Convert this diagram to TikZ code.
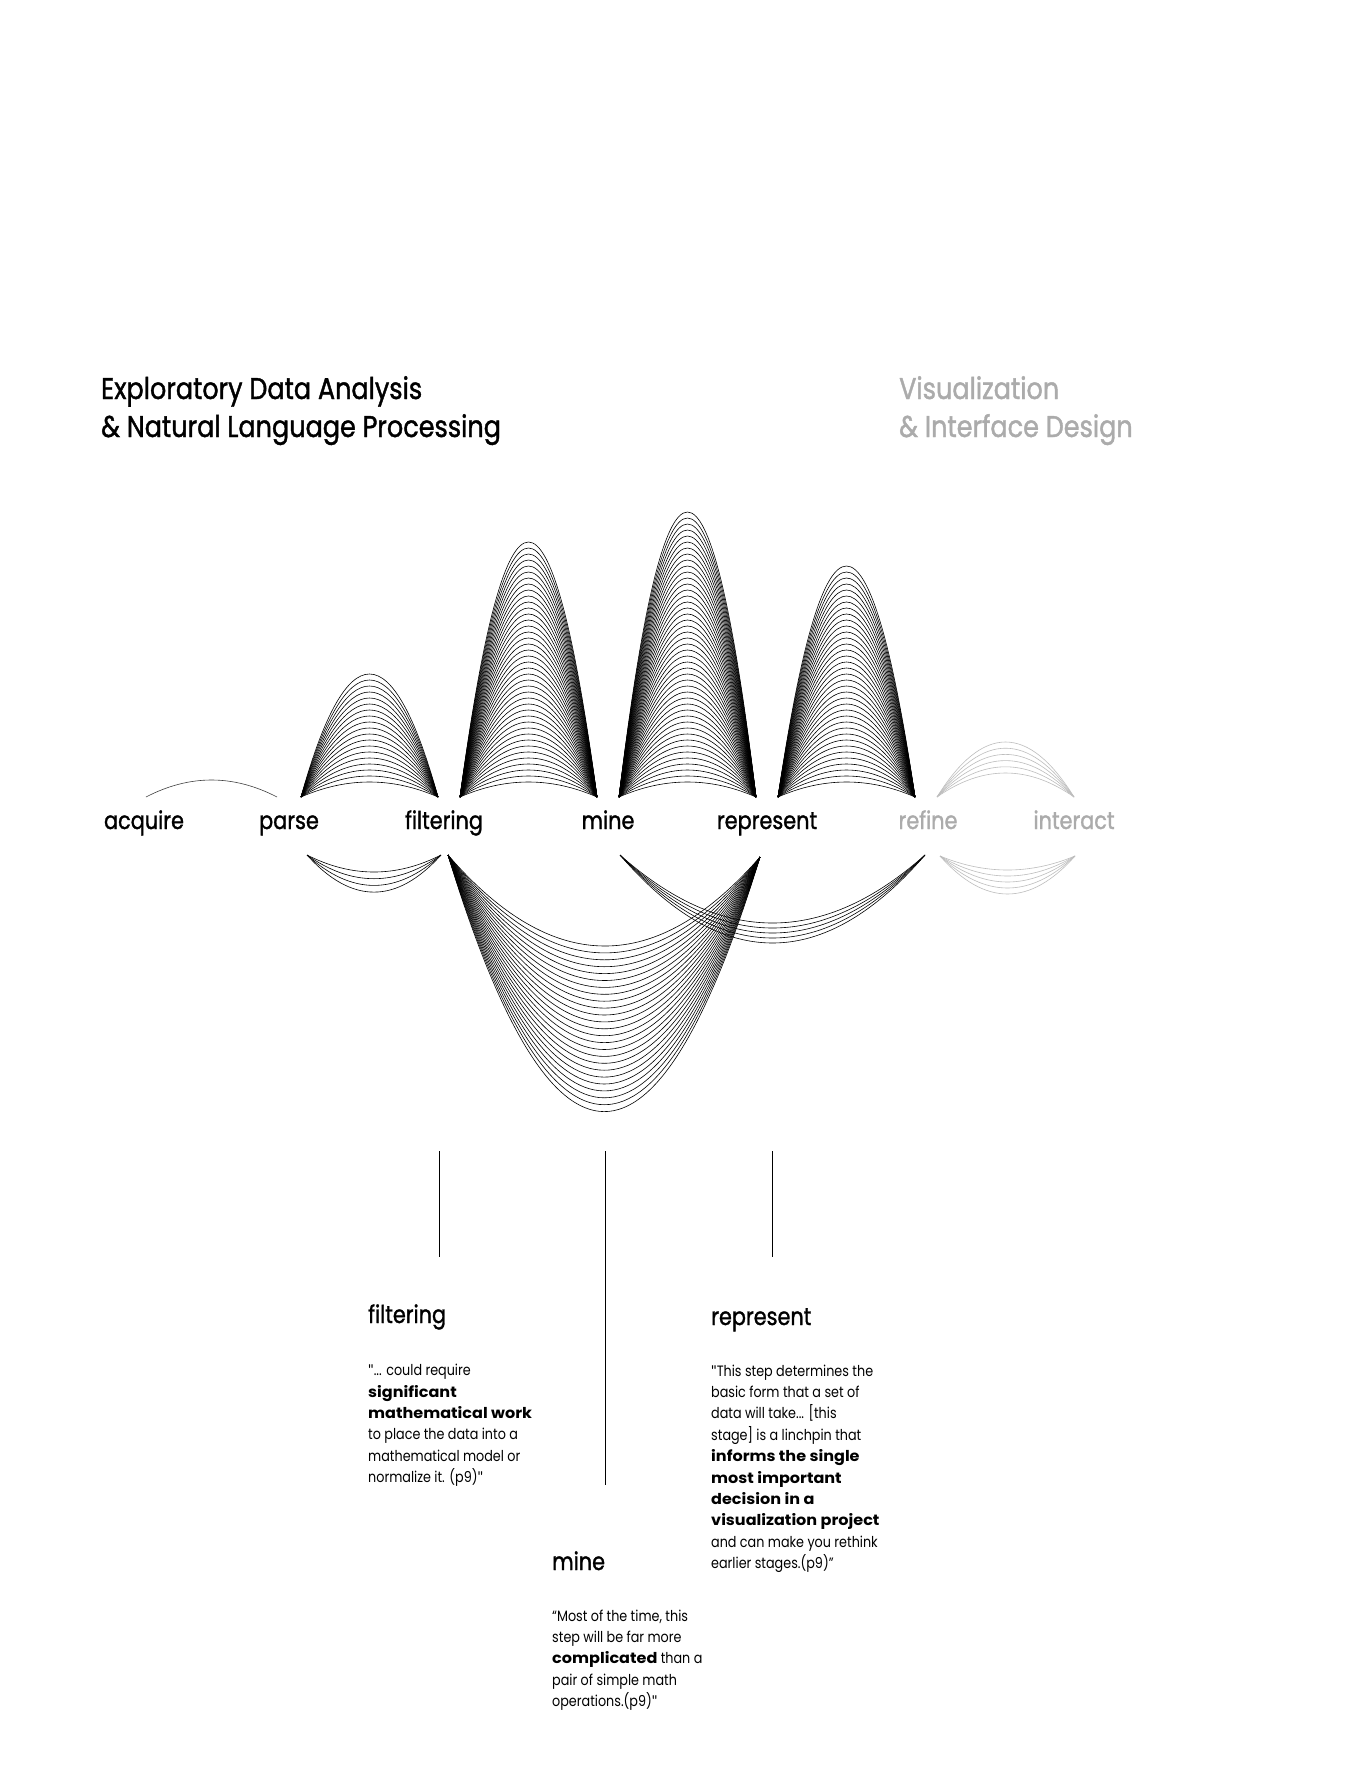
\documentclass[tikz,border=0pt]{standalone}
\usepackage{fontspec}
\setmainfont{Poppins}[FakeStretch=0.85, BoldFeatures={FakeStretch=1.07}]
\newfontfamily\medfont{Poppins}[FakeStretch=0.85, FakeBold=1.3]
\newfontfamily\straightq{Lato}
\newcommand\sq{{\straightq "}}
\usetikzlibrary{calc}
\definecolor{lightgr}{HTML}{ABABAB}
\definecolor{arcgr}{HTML}{BDBDBD}
\tikzset{
  titletext/.style={anchor=base west, inner sep=0pt, font=\medfont\fontsize{30}{38}\selectfont},
  stagelabel/.style={anchor=base, inner sep=0pt, font=\medfont\fontsize{24.5}{28}\selectfont},
  headtext/.style={anchor=base west, inner sep=0pt, font=\medfont\fontsize{24.5}{28}\selectfont},
  quotetext/.style={anchor=north west, inner sep=0pt, align=left, font=\fontsize{15}{21.4}\selectfont},
  arcline/.style={black, line width=0.6pt},
  grayarc/.style={arcgr, line width=0.6pt},
  thinarc/.style={black!75, line width=0.6pt},
  stem/.style={black, line width=0.8pt}
}
\newcommand\arcfam[6]{%
  \foreach \k in {0,...,#5}{%
    \pgfmathsetmacro\hh{-4/3*(#3+\k*#4)}%
    \draw[#6] (#1) .. controls ($(#1)!1/3!(#2)+(0,\hh)$) and ($(#1)!2/3!(#2)+(0,\hh)$) .. (#2);
  }}
\begin{document}
\begin{tikzpicture}[x=1pt,y=-1pt]
\useasboundingbox[fill=white] (0,0) rectangle (1370,1766);

% titles
\node[titletext] (t1) at (101,399) {Exploratory Data Analysis};
\node[titletext] (t2) at (101,437) {\& Natural Language Processing};
\node[titletext, text=lightgr] (t3) at (899,399) {Visualization};
\node[titletext, text=lightgr] (t4) at (899,437) {\& Interface Design};

% stage labels
\node[stagelabel] (acquire) at (144,829) {acquire};
\node[stagelabel] (parse) at (289,829) {parse};
\node[stagelabel] (filtering) at (444,829) {filtering};
\node[stagelabel] (mine) at (608,829) {mine};
\node[stagelabel] (represent) at (767,829) {represent};
\node[stagelabel, text=lightgr] (refine) at (928,829) {refine};
\node[stagelabel, text=lightgr] (interact) at (1074,829) {interact};

% arc end points (upper)
\coordinate (acA) at (146,797); \coordinate (acB) at (277,797);
\coordinate (pfA) at (301,797); \coordinate (pfB) at (438,797);
\coordinate (fmA) at (460,797); \coordinate (fmB) at (597,797);
\coordinate (mrA) at (619,797); \coordinate (mrB) at (756,797);
\coordinate (rrA) at (778,797); \coordinate (rrB) at (915,797);
\coordinate (riA) at (937,797); \coordinate (riB) at (1074,797);
% arc end points (lower)
\coordinate (lpfA) at (307,855); \coordinate (lpfB) at (441,855);
\coordinate (lfrA) at (448,855); \coordinate (lfrB) at (760,857);
\coordinate (lmrA) at (620,855); \coordinate (lmrB) at (925,855);
\coordinate (lriA) at (940,856); \coordinate (lriB) at (1075,856);

% upper arcs
\arcfam{acA}{acB}{17}{6}{0}{thinarc}
\arcfam{pfA}{pfB}{15}{6}{18}{arcline}
\arcfam{fmA}{fmB}{15}{6}{40}{arcline}
\arcfam{mrA}{mrB}{15}{6}{45}{arcline}
\arcfam{rrA}{rrB}{15}{6}{36}{arcline}
\arcfam{riA}{riB}{24}{6.2}{5}{grayarc}
% lower arcs
\arcfam{lpfA}{lpfB}{-17}{-6.7}{3}{arcline}
\arcfam{lfrA}{lfrB}{-90}{-6.9}{24}{arcline}
\arcfam{lmrA}{lmrB}{-68}{-5}{4}{arcline}
\arcfam{lriA}{lriB}{-14}{-6}{4}{grayarc}

% stems
\coordinate (s1t) at (439,1151); \coordinate (s1b) at (439,1257);
\coordinate (s2t) at (605,1151); \coordinate (s2b) at (605,1485);
\coordinate (s3t) at (772,1151); \coordinate (s3b) at (772,1257);
\draw[stem] (s1t) -- (s1b);
\draw[stem] (s2t) -- (s2b);
\draw[stem] (s3t) -- (s3b);

% detail blocks
\node[headtext] (hfilt) at (368,1323) {filtering};
\node[quotetext] (qfilt) at (368,1364) {\sq... could require\\\textbf{significant}\\\textbf{mathematical work}\\to place the data into a\\mathematical model or\\normalize it. (p9)\sq};

\node[headtext] (hrep) at (711,1325) {represent};
\node[quotetext] (qrep) at (711,1364.5) {\sq This step determines the\\basic form that a set of\\data will take... [this\\stage] is a linchpin that\\\textbf{informs the single}\\\textbf{most important}\\\textbf{decision in a}\\\textbf{visualization project}\\and can make you rethink\\earlier stages.(p9)”};

\node[headtext] (hmine) at (552,1570) {mine};
\node[quotetext] (qmine) at (552,1609.5) {“Most of the time, this\\step will be far more\\\textbf{complicated} than a\\pair of simple math\\operations.(p9)\sq};
\end{tikzpicture}
\end{document}
